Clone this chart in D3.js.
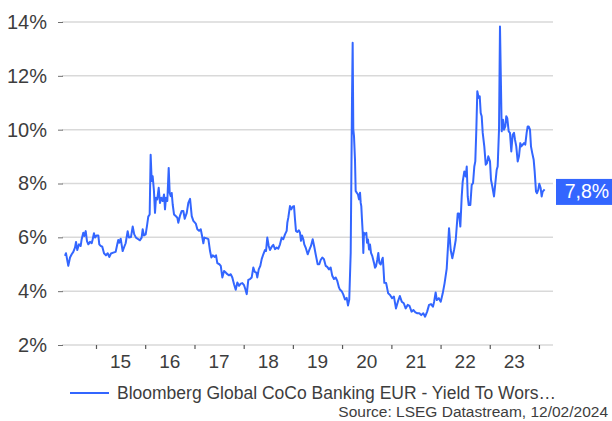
<!DOCTYPE html>
<html>
<head>
<meta charset="utf-8">
<script src="https://cdn.jsdelivr.net/npm/d3@7"></script>
<style>
  html, body { margin: 0; padding: 0; background: #fff; }
  svg { display: block; font-family: "Liberation Sans", Arial, sans-serif; }
</style>
</head>
<body>
<svg id="chart" width="612" height="421"></svg>
<script>
// ---- data (decimal years, yield in %) ----
const years = [
2014.370,2014.390,2014.437,2014.472,2014.506,2014.539,2014.573,2014.594,2014.620,2014.655,
2014.689,2014.709,2014.742,2014.762,2014.791,2014.817,2014.844,2014.878,2014.913,2014.933,
2014.959,2014.980,2015.014,2015.047,2015.067,2015.095,2015.128,2015.163,2015.203,2015.238,
2015.270,2015.305,2015.351,2015.400,2015.433,2015.453,2015.473,2015.502,2015.542,2015.575,
2015.603,2015.644,2015.670,2015.711,2015.746,2015.778,2015.813,2015.859,2015.894,2015.928,
2015.949,2015.975,2016.010,2016.036,2016.063,2016.091,2016.111,2016.132,2016.152,2016.178,
2016.199,2016.219,2016.245,2016.274,2016.300,2016.327,2016.355,2016.382,2016.402,2016.422,
2016.449,2016.477,2016.497,2016.518,2016.538,2016.558,2016.585,2016.619,2016.652,2016.672,
2016.707,2016.741,2016.774,2016.802,
2016.843,2016.875,2016.910,2016.944,2016.977,2017.026,2017.058,2017.093,2017.127,2017.154,
2017.180,2017.200,2017.249,2017.282,2017.316,2017.343,2017.371,2017.412,2017.438,2017.464,
2017.505,2017.534,2017.566,2017.601,2017.635,2017.668,2017.702,2017.737,2017.769,2017.804,
2017.838,2017.871,2017.905,2017.940,2017.972,2018.007,2018.033,2018.062,2018.094,2018.129,
2018.163,2018.196,2018.224,2018.257,2018.277,2018.306,2018.338,2018.366,2018.399,2018.434,
2018.454,2018.480,2018.509,2018.535,2018.570,2018.602,2018.637,2018.671,2018.704,2018.738,
2018.773,2018.805,2018.840,2018.874,2018.887,2018.907,2018.941,2018.968,2018.996,2019.023,
2019.043,2019.063,2019.090,2019.124,2019.145,2019.165,2019.185,2019.212,2019.232,2019.260,
2019.301,2019.334,2019.368,2019.403,2019.435,2019.470,2019.504,2019.537,2019.565,2019.598,
2019.632,2019.667,2019.699,2019.734,2019.768,2019.801,2019.835,2019.870,2019.903,2019.937,
2019.957,2019.992,2020.024,2020.059,2020.094,2020.120,2020.146,2020.175,2020.187,2020.201,
2020.215,2020.228,2020.242,2020.262,2020.276,2020.297,2020.323,2020.343,2020.364,2020.378,
2020.390,2020.404,2020.419,2020.431,2020.445,2020.471,2020.492,2020.506,2020.526,2020.547,
2020.567,2020.587,2020.614,2020.648,2020.668,2020.689,2020.715,2020.735,2020.756,2020.784,
2020.811,2020.825,2020.837,2020.857,
2020.894,2020.935,2020.973,2021.014,2021.052,2021.093,2021.132,2021.172,2021.211,2021.252,
2021.290,2021.331,2021.369,2021.410,2021.449,2021.489,2021.528,2021.569,2021.607,2021.648,
2021.686,2021.727,2021.766,2021.806,2021.845,2021.869,2021.900,2021.924,2021.965,2022.003,
2022.044,2022.082,
2022.125,2022.172,2022.206,2022.239,2022.274,2022.308,2022.349,2022.375,2022.402,2022.430,
2022.450,2022.483,2022.511,2022.532,2022.552,2022.572,2022.605,2022.633,2022.660,2022.686,
2022.706,2022.727,2022.747,2022.775,2022.796,2022.816,2022.836,2022.857,2022.889,2022.918,
2022.944,2022.970,2023.005,2023.025,2023.052,2023.086,2023.107,2023.141,2023.161,2023.188,
2023.208,2023.228,2023.243,2023.269,2023.289,2023.316,2023.336,2023.356,2023.385,2023.411,
2023.438,2023.466,2023.493,2023.513,2023.539,2023.568,2023.594,2023.621,2023.641,2023.669,
2023.696,2023.722,2023.750,2023.771,2023.791,2023.818,2023.838,2023.864,2023.893,2023.913,
2023.940,2023.960,2023.986,2024.007,2024.035,2024.055,2024.076,2024.115
];
const yields = [
5.31,5.41,4.94,5.25,5.37,5.46,5.62,5.83,5.53,5.74,
5.68,5.93,6.17,6.05,6.23,5.86,5.74,5.83,5.78,5.93,
6.15,5.99,6.07,6.07,5.74,5.68,5.65,5.41,5.33,5.41,
5.27,5.40,5.43,5.46,5.74,5.90,5.80,5.95,5.49,5.65,
5.78,6.23,5.99,6.01,6.40,6.11,5.99,5.93,5.89,5.99,
6.30,6.07,6.11,6.42,6.77,6.85,9.07,8.09,8.27,7.72,
6.91,7.47,7.41,7.84,7.28,7.47,7.35,7.59,7.04,7.47,
7.35,8.58,7.65,7.53,7.65,7.22,6.85,6.79,6.73,6.54,
6.81,6.98,6.98,6.69,
6.91,7.28,7.43,6.79,6.61,6.51,6.30,6.24,6.30,6.05,
5.78,5.99,5.96,5.93,5.49,5.25,5.33,5.27,5.33,5.04,
5.00,4.94,4.51,4.75,4.69,4.63,4.59,4.63,4.51,4.26,
4.05,4.32,4.20,4.28,4.30,4.22,4.08,3.89,4.42,4.45,
4.51,4.88,4.72,4.69,4.51,4.81,4.94,5.19,5.37,5.53,
5.49,5.99,5.68,5.53,5.65,5.72,5.56,5.62,5.58,5.74,
5.99,5.93,6.11,6.24,6.54,6.73,7.16,7.04,7.14,7.16,
6.67,6.24,6.20,6.26,6.17,5.87,6.07,5.93,5.74,5.62,
5.37,5.53,5.68,5.93,5.65,5.31,5.00,5.00,5.16,5.25,
5.19,4.94,4.90,4.81,4.88,4.57,4.45,4.51,4.38,4.14,
4.06,4.00,3.88,3.69,3.75,3.47,3.69,5.42,7.90,11.00,
13.23,10.01,9.76,8.89,7.72,7.66,7.59,7.41,7.66,7.28,
7.16,6.66,6.17,5.42,6.17,6.11,6.17,5.80,5.92,5.55,
5.73,5.42,5.30,5.05,4.87,4.93,5.18,5.42,5.05,4.99,
5.18,5.24,4.93,4.31,
4.30,3.92,3.86,3.74,3.80,3.36,3.61,3.82,3.61,3.55,
3.36,3.49,3.45,3.24,3.30,3.21,3.18,3.18,3.11,3.18,
3.05,3.24,3.49,3.52,3.42,3.61,3.95,3.67,3.74,3.61,
3.92,4.30,
4.84,6.34,5.53,5.22,5.53,5.90,6.89,6.89,6.40,7.52,
8.07,8.45,8.26,8.63,7.52,7.20,7.20,7.95,8.01,8.63,
8.82,10.00,11.43,11.18,11.24,10.62,10.50,9.88,9.38,8.70,
8.76,9.01,8.82,8.14,7.89,7.52,7.89,8.51,8.63,10.00,
13.83,11.61,9.94,10.37,10.00,10.12,10.50,10.43,9.94,9.88,
9.19,9.81,9.88,9.63,9.38,8.82,9.01,9.50,9.38,9.44,
9.50,9.44,9.88,10.12,10.12,10.00,9.38,9.13,8.88,8.45,
7.70,7.64,7.76,7.99,7.83,7.52,7.70,7.78
];
const yearTicks = [2015,2016,2017,2018,2019,2020,2021,2022,2023,2024];
const yearLabels = ["15","16","17","18","19","20","21","22","23"];
const yTicks = [2,4,6,8,10,12,14];
const xDomainYears = [2014.309, 2024.285];
const seriesName = "Bloomberg Global CoCo Banking EUR - Yield To Wors\u2026";
const sourceText = "Source: LSEG Datastream, 12/02/2024";

(function () {
  function toDate(t) {
    const yr = Math.floor(t);
    const s = Date.UTC(yr, 0, 1), e = Date.UTC(yr + 1, 0, 1);
    return new Date(s + (t - yr) * (e - s));
  }
  const data = years.map((t, i) => ({ date: toDate(t), value: yields[i] }));

  const blue = "#3366ff";
  const textCol = "#3d3d3d";
  const svg = d3.select("#chart");
  const pL = 62, pR = 553, pT = 22, pB = 345;

  const x = d3.scaleTime().domain(xDomainYears.map(toDate)).range([pL, pR]);
  const y = d3.scaleLinear().domain([2, 14]).range([pB, pT]);

  // gridlines
  svg.append("g").selectAll("line").data(yTicks).join("line")
    .attr("x1", pL).attr("x2", pR)
    .attr("y1", d => y(d)).attr("y2", d => y(d))
    .attr("stroke", "#d9d9d9").attr("stroke-width", 1.5);

  // y axis
  const yAxis = svg.append("g").attr("transform", `translate(${pL + 1},0)`)
    .call(d3.axisLeft(y).tickValues(yTicks).tickSize(5).tickPadding(11)
      .tickFormat(d => d + "%"));
  yAxis.select(".domain").remove();
  yAxis.selectAll(".tick line").attr("stroke", "#6f6f6f");
  yAxis.selectAll("text").attr("font-size", 20).attr("fill", textCol)
    .attr("font-family", "Liberation Sans, Arial, sans-serif");

  // x axis ticks
  const xAxis = svg.append("g").attr("transform", `translate(0,${pB})`)
    .call(d3.axisBottom(x).tickValues(yearTicks.map(toDate)).tickSize(4).tickFormat(""));
  xAxis.select(".domain").remove();
  xAxis.selectAll(".tick line").attr("stroke", "#595959").attr("stroke-width", 1.2);

  // x labels centered mid-year
  svg.append("g").selectAll("text").data(yearLabels).join("text")
    .attr("x", (d, i) => x(toDate(yearTicks[i] + 0.5)))
    .attr("y", 361).attr("dy", "0.35em")
    .attr("text-anchor", "middle").attr("font-size", 19).attr("fill", textCol)
    .text(d => d);

  // line
  svg.append("path").datum(data)
    .attr("fill", "none").attr("stroke", blue).attr("stroke-width", 2)
    .attr("stroke-linejoin", "round")
    .attr("d", d3.line().x(d => x(d.date)).y(d => y(d.value)));

  // last value label
  const last = data[data.length - 1];
  const ly = y(last.value) + 2.5;
  svg.append("rect").attr("x", 556).attr("y", ly - 13).attr("width", 56).attr("height", 26)
    .attr("fill", blue);
  svg.append("text").attr("x", 587).attr("y", ly - 1).attr("dy", "0.35em")
    .attr("text-anchor", "middle").attr("font-size", 19.5).attr("fill", "#fff")
    .text(d3.format(".1f")(last.value).replace(".", ",") + "%");

  // legend
  svg.append("line").attr("x1", 70).attr("x2", 109).attr("y1", 393).attr("y2", 393)
    .attr("stroke", blue).attr("stroke-width", 2);
  svg.append("text").attr("x", 117).attr("y", 393).attr("dy", "0.35em")
    .attr("font-size", 17.5).attr("fill", textCol).text(seriesName);

  // source
  svg.append("text").attr("x", 608).attr("y", 412).attr("dy", "0.35em")
    .attr("text-anchor", "end").attr("font-size", 15.5).attr("fill", textCol).text(sourceText);
})();
</script>
</body>
</html>
